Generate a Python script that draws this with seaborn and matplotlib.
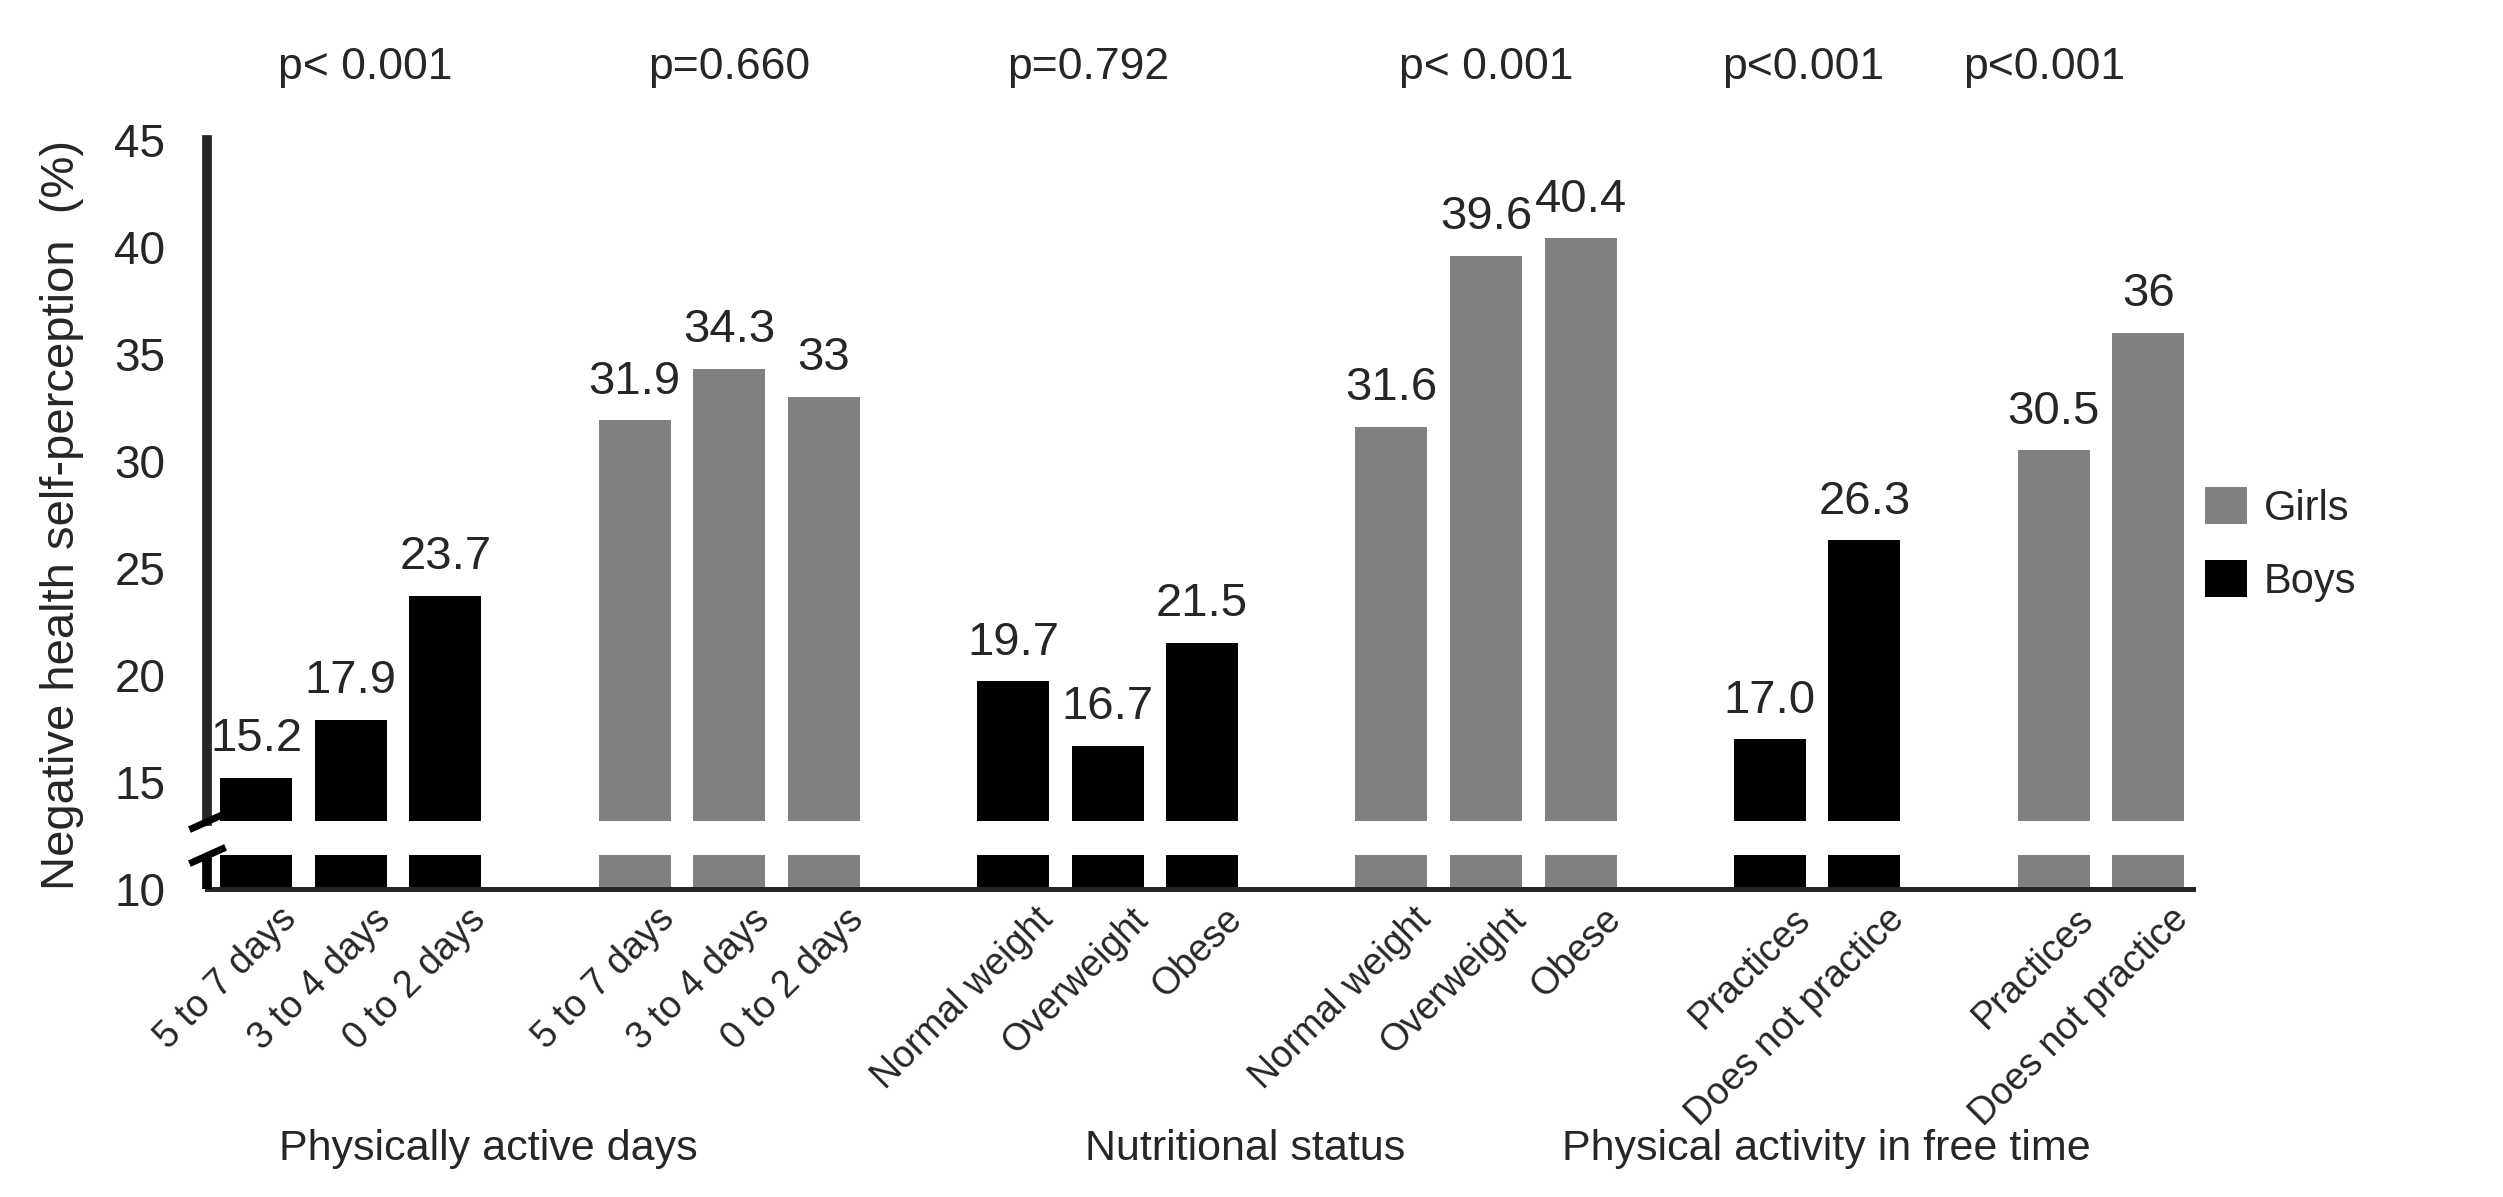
import matplotlib
matplotlib.use("Agg")
import matplotlib.pyplot as plt
import matplotlib.transforms as mtransforms
from matplotlib import font_manager
import seaborn as sns
import pandas as pd

# ====================
# DONNEES
# ====================
days_cats = ["5 to 7 days", "3 to 4 days", "0 to 2 days"]
weight_cats = ["Normal weight", "Overweight", "Obese"]
free_cats = ["Practices", "Does not practice"]

boys_days = [15.2, 17.9, 23.7]
girls_days = [31.9, 34.3, 33.0]
boys_weight = [19.7, 16.7, 21.5]
girls_weight = [31.6, 39.6, 40.4]
boys_free = [17.0, 26.3]
girls_free = [30.5, 36.0]

value_text = ["15.2", "17.9", "23.7", "31.9", "34.3", "33",
              "19.7", "16.7", "21.5", "31.6", "39.6", "40.4",
              "17.0", "26.3", "30.5", "36"]

p_values = ["p< 0.001", "p=0.660", "p=0.792", "p< 0.001", "p<0.001", "p<0.001"]
group_titles = ["Physically active days", "Nutritional status",
                "Physical activity in free time"]

y_ticks = [10, 15, 20, 25, 30, 35, 40, 45]

# ====================
# MISE EN PAGE
# ====================
GRIS = "#808080"
NOIR = "#000000"
BREAK_LO, BREAK_HI = 11.6, 13.2
GAP = 1                                        # case vide entre les groupes
p_x = [1.15, 5.0, 8.8, 13.0, 16.35, 18.9]      # position des p-valeurs (en cases)
title_x = [2.45, 10.45, 16.6]                  # centre des titres de groupe

# police étroite pour les titres de groupe si elle existe
noms = {f.name for f in font_manager.fontManager.ttflist}
if "Liberation Sans Narrow" in noms:
    TITRE_FONT, TITRE_SIZE = ["Liberation Sans Narrow", "DejaVu Sans"], 36
else:
    TITRE_FONT, TITRE_SIZE = ["Liberation Sans", "DejaVu Sans"], 31

groupes = [
    ("Boys", days_cats, boys_days),
    ("Girls", days_cats, girls_days),
    ("Boys", weight_cats, boys_weight),
    ("Girls", weight_cats, girls_weight),
    ("Boys", free_cats, boys_free),
    ("Girls", free_cats, girls_free),
]

rows = []
pos = 0
for sexe, cats, vals in groupes:
    for c, v in zip(cats, vals):
        rows.append({"pos": pos, "cat": c, "value": v, "sex": sexe})
        pos += 1
    pos += GAP
df = pd.DataFrame(rows)
df["txt"] = value_text

sns.set_style("white")
plt.rcParams["font.family"] = ["Liberation Sans", "DejaVu Sans"]

fig = plt.figure(figsize=(25.03, 11.97), dpi=100)
ax = fig.add_axes([0.0827, 0.2573, 0.876 - 0.0827, 0.883 - 0.2573])

sns.barplot(data=df, x="pos", y="value", hue="sex", hue_order=["Girls", "Boys"],
            palette={"Girls": GRIS, "Boys": NOIR}, native_scale=True, dodge=False,
            width=0.76, errorbar=None, ax=ax, linewidth=0)

# étiquettes de valeurs
txt_par_pos = dict(zip(df["pos"], df["txt"]))
for cont in ax.containers:
    labs = [txt_par_pos.get(round(b.get_x() + b.get_width() / 2), "") for b in cont]
    ax.bar_label(cont, labels=labs, padding=12, fontsize=34)

ax.set_xlim(-0.52, 20.47)
ax.set_ylim(10, 45)
ax.set_yticks(y_ticks)
ax.tick_params(axis="y", direction="out", length=10, width=7, pad=20, labelsize=33)
ax.set_xticks(df["pos"])
ax.set_xticklabels(df["cat"], rotation=45, ha="right", va="center",
                   rotation_mode="anchor", fontsize=27)
ax.tick_params(axis="x", length=0, pad=18)
decal = mtransforms.ScaledTranslation(25 / 72, 0, fig.dpi_scale_trans)
for lab in ax.get_xticklabels():
    lab.set_transform(lab.get_transform() + decal)
ax.set_xlabel("")
ax.set_ylabel("Negative health self-perception  (%)", fontsize=34, labelpad=22)

# axes / coupure
for s in ["top", "right"]:
    ax.spines[s].set_visible(False)
ax.spines["left"].set_linewidth(7)
ax.spines["left"].set_bounds(BREAK_HI, 45)
ax.spines["bottom"].set_linewidth(3.6)
ax.axhspan(BREAK_LO, BREAK_HI, color="white", zorder=2, lw=0)
ytr = ax.get_yaxis_transform()
ax.plot([0, 0], [10, BREAK_LO], transform=ytr, color="black", lw=7,
        solid_capstyle="butt", clip_on=False, zorder=4)
for yb in [BREAK_LO, BREAK_HI]:
    ax.plot([0], [yb], transform=ytr, marker=[(-1, -0.45), (1, 0.45)],
            markersize=26, mew=5, color="black", linestyle="none",
            clip_on=False, zorder=5)

# p-valeurs et titres de groupe
xtr = ax.get_xaxis_transform()
for x, p in zip(p_x, p_values):
    ax.text(x, 1.097, p, transform=xtr, ha="center", va="center", fontsize=32)
for x, t in zip(title_x, group_titles):
    ax.text(x, -0.347, t, transform=xtr, ha="center", va="center",
            fontsize=TITRE_SIZE, family=TITRE_FONT)

# légende
ax.legend(loc="center left", bbox_to_anchor=(1.0, 0.46), frameon=False,
          fontsize=30, handlelength=1.0, handleheight=1.0, borderaxespad=0.1,
          borderpad=0.2, handletextpad=0.4, labelspacing=0.75)

fig.savefig("out.png", dpi=100)
